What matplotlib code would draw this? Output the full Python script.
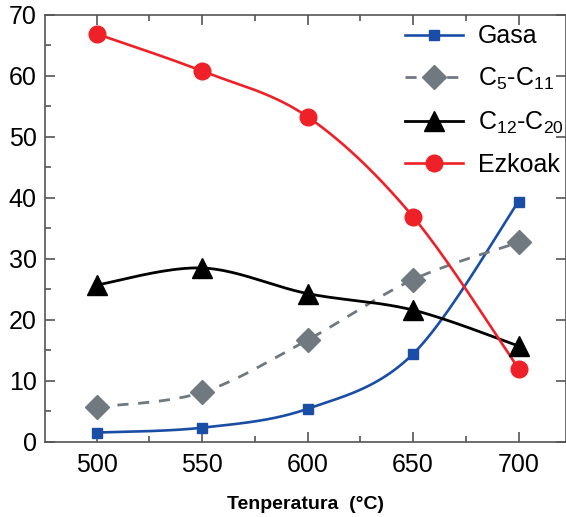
import numpy as np
import matplotlib
matplotlib.use("Agg")
import matplotlib.pyplot as plt
from matplotlib.ticker import MultipleLocator

plt.rcParams['font.family'] = ['Liberation Sans', 'DejaVu Sans']
plt.rcParams['mathtext.fontset'] = 'custom'
plt.rcParams['mathtext.rm'] = 'Liberation Sans'
plt.rcParams['mathtext.it'] = 'Liberation Sans'

temps = [500, 550, 600, 650, 700]
gasa = [1.5, 2.3, 5.4, 14.4, 39.4]
c5_c11 = [5.7, 8.1, 16.7, 26.6, 32.7]
c12_c20 = [25.7, 28.5, 24.3, 21.6, 15.7]
ezkoak = [66.9, 60.8, 53.3, 36.9, 12.0]

labels = ['Gasa', r'C$_\mathregular{5}$-C$_\mathregular{11}$',
          r'C$_\mathregular{12}$-C$_\mathregular{20}$', 'Ezkoak']


def catmull(x, y, n=40):
    x = np.asarray(x, float)
    y = np.asarray(y, float)
    px = np.concatenate([[x[0]], x, [x[-1]]])
    py = np.concatenate([[y[0]], y, [y[-1]]])
    xs, ys = [], []
    for i in range(1, len(px) - 2):
        p0, p1, p2, p3 = (np.array([px[j], py[j]]) for j in (i - 1, i, i + 1, i + 2))
        t = np.linspace(0, 1, n)[:, None]
        m1 = (p2 - p0) / 2
        m2 = (p3 - p1) / 2
        h00 = 2 * t**3 - 3 * t**2 + 1
        h10 = t**3 - 2 * t**2 + t
        h01 = -2 * t**3 + 3 * t**2
        h11 = t**3 - t**2
        pts = h00 * p1 + h10 * m1 + h01 * p2 + h11 * m2
        xs.append(pts[:, 0])
        ys.append(pts[:, 1])
    return np.concatenate(xs), np.concatenate(ys)


fig = plt.figure(figsize=(5.66, 5.17), dpi=100)
ax = fig.add_axes([0.0795, 0.1456, 0.9205, 0.8254])

styles = [
    dict(color='#1a4ea6', marker='s', ms=7, ls='-', lw=1.9),
    dict(color='#707880', marker='D', ms=12, ls=(0, (4, 3.5)), lw=2.0),
    dict(color='black', marker='^', ms=14, ls='-', lw=2.0),
    dict(color='#ee2128', marker='o', ms=12, ls='-', lw=1.9),
]
series = [gasa, c5_c11, c12_c20, ezkoak]
for data, st, lab in zip(series, styles, labels):
    sx, sy = catmull(temps, data)
    ax.plot(sx, sy, color=st['color'], ls=st['ls'], lw=st['lw'], zorder=2)
    ax.plot(temps, data, ls='none', marker=st['marker'], ms=st['ms'],
            color=st['color'], zorder=3)
    ax.plot([], [], color=st['color'], ls=st['ls'], lw=st['lw'],
            marker=st['marker'], ms=st['ms'], label=lab)

ax.set_xlim(475.5, 722.5)
ax.set_ylim(0, 70)
ax.set_xticks(temps)
ax.set_yticks(range(0, 71, 10))
ax.xaxis.set_minor_locator(MultipleLocator(25))
ax.yaxis.set_minor_locator(MultipleLocator(5))
ax.tick_params(which='both', direction='in', top=True, right=True,
               labelsize=18, colors='#555555', labelcolor='black', width=1.2)
ax.tick_params(which='major', length=7)
ax.tick_params(which='minor', length=4)
ax.tick_params(axis='y', which='minor', right=False)
ax.tick_params(axis='x', pad=8)
ax.tick_params(axis='y', pad=6)
for s in ax.spines.values():
    s.set_color('#555555')
    s.set_linewidth(1.2)

ax.set_xlabel('Tenperatura  (°C)', fontsize=14, fontweight='bold', labelpad=14)

fig.legend(loc='upper left', bbox_to_anchor=(0.716, 0.953), frameon=False,
           fontsize=18, handlelength=2.3, handletextpad=0.6, labelspacing=0.7,
           borderpad=0, borderaxespad=0)

fig.savefig('out.png', dpi=100)
